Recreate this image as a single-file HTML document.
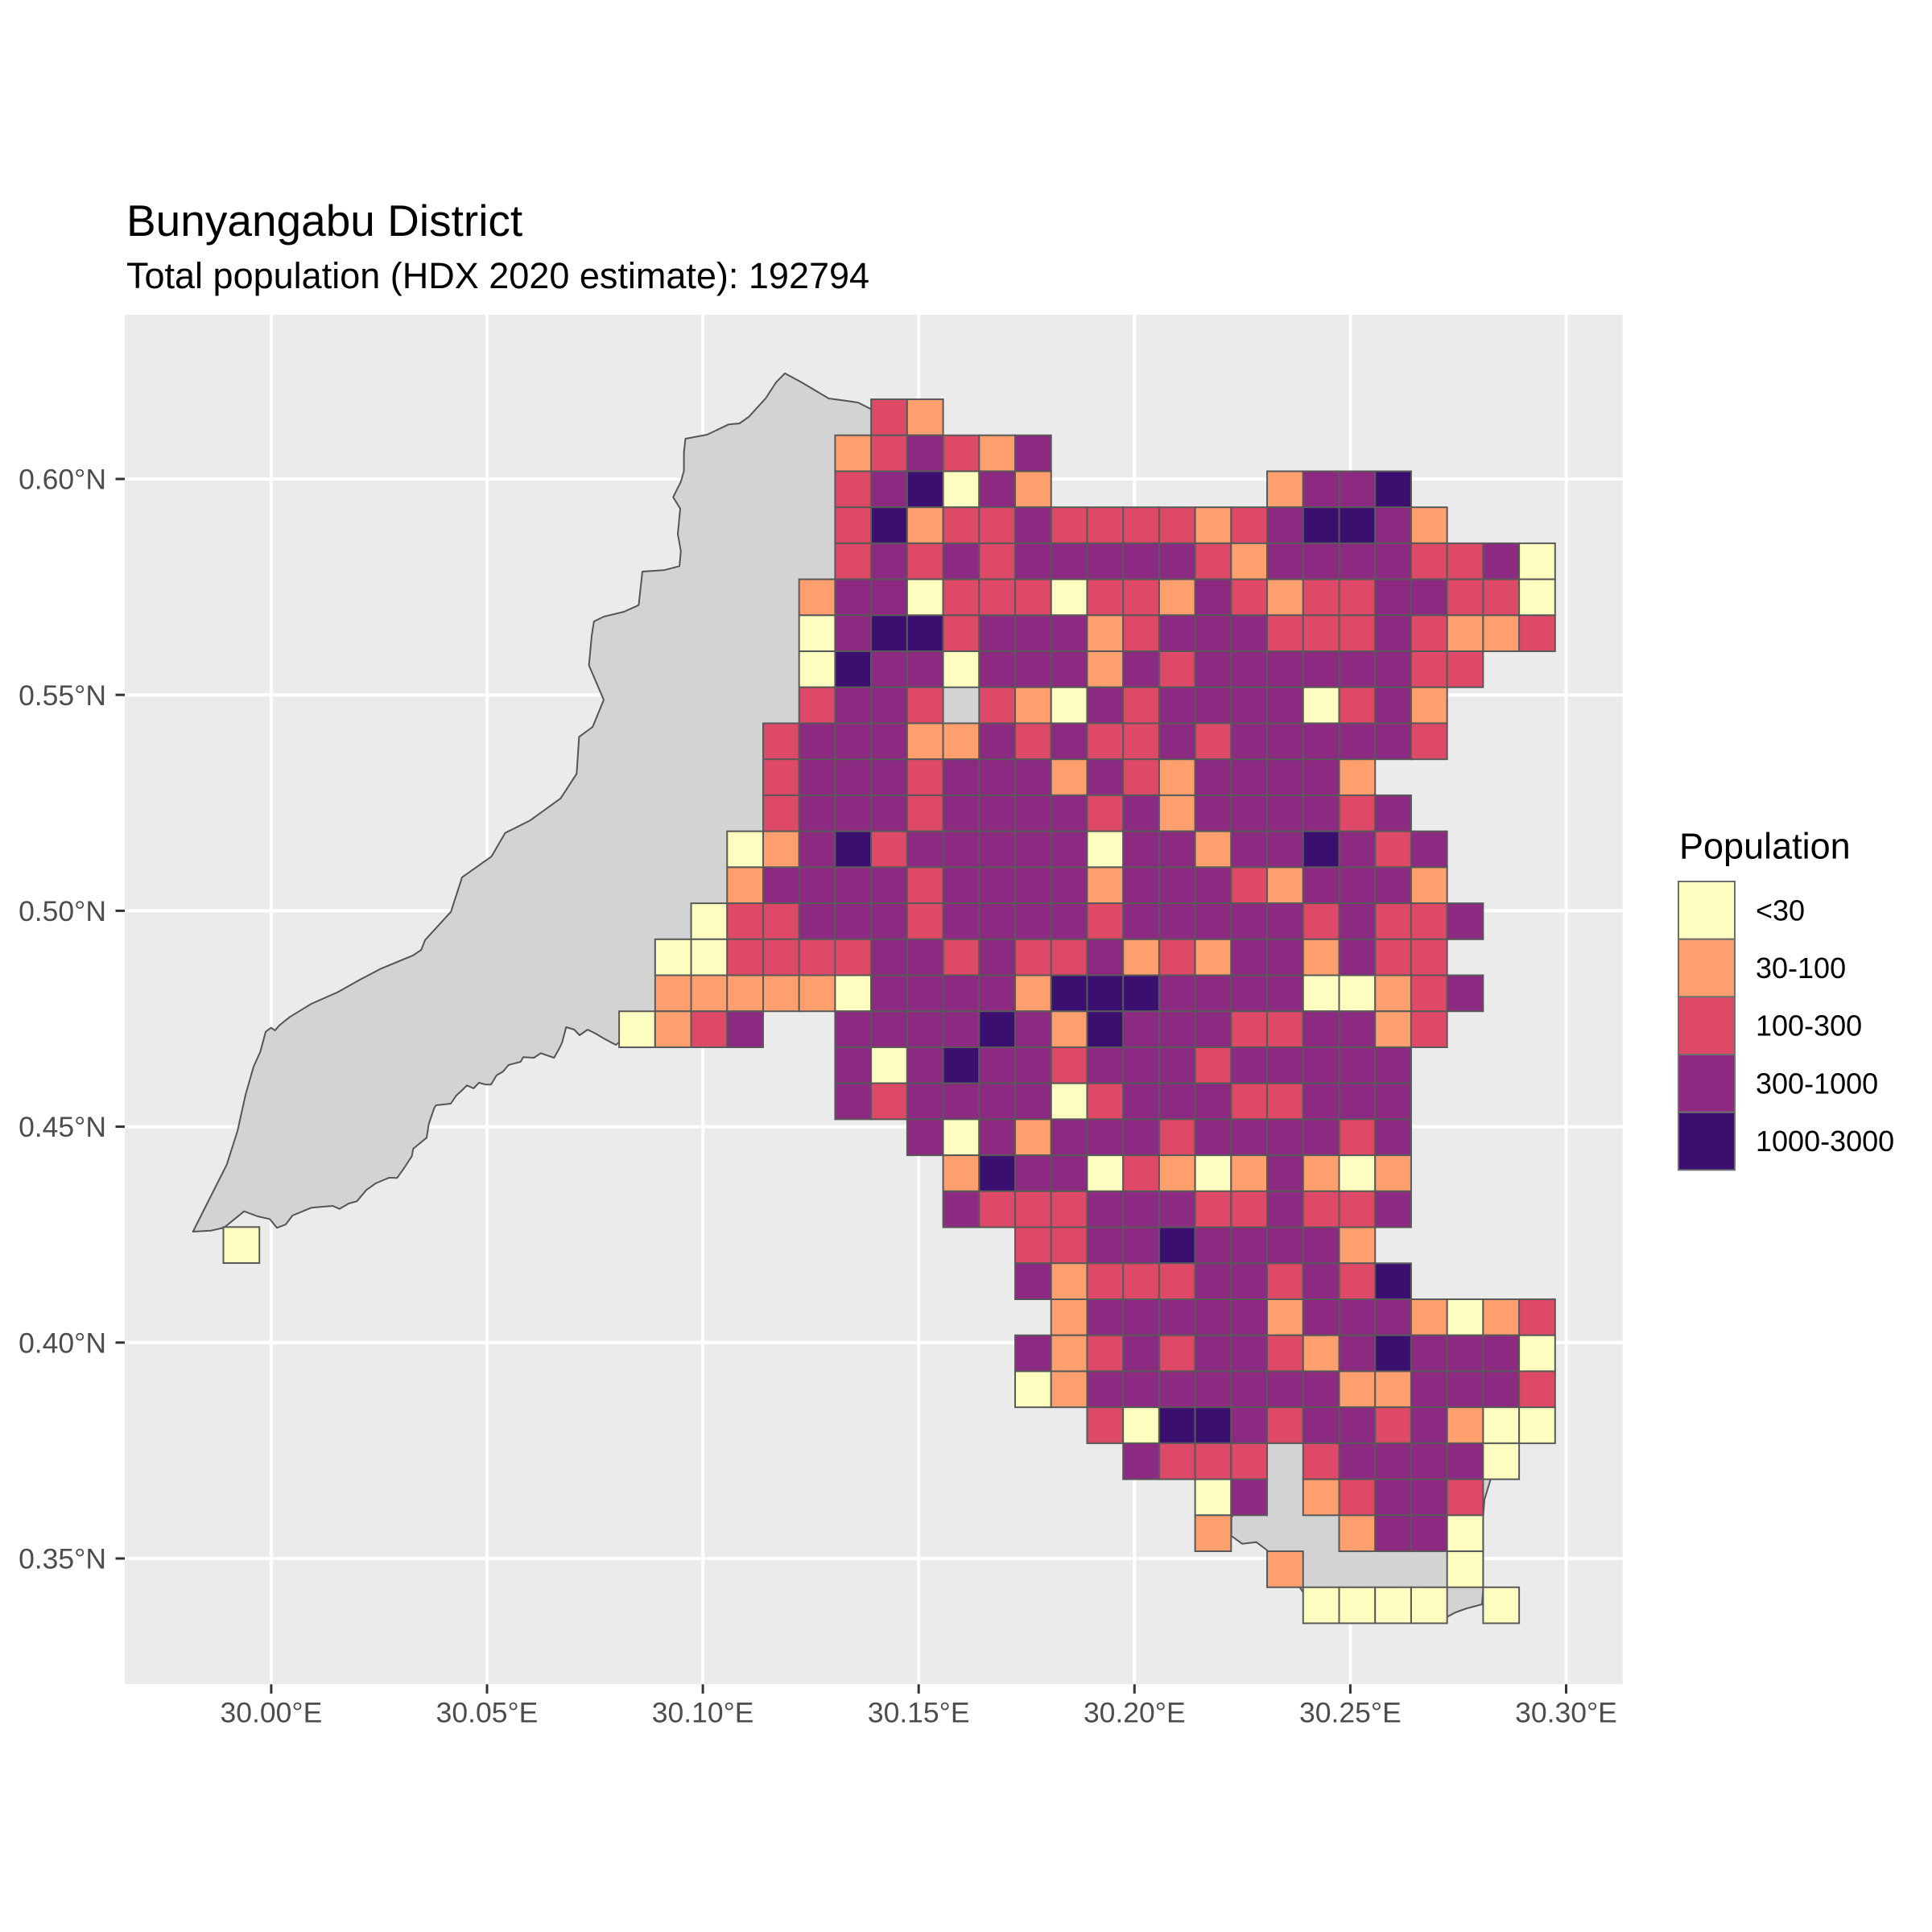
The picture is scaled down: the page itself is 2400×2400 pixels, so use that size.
<!DOCTYPE html>
<html><head><meta charset="utf-8"><style>
html,body{margin:0;padding:0;background:#fff;}
svg{display:block;}
text{font-family:"Liberation Sans",Arial,sans-serif;}
</style></head><body>
<svg id="s" width="2400" height="2400" viewBox="0 0 2400 2400" xmlns="http://www.w3.org/2000/svg">
<rect width="2400" height="2400" fill="#fff"/>
<text x="157" y="293" font-size="55" fill="#000">Bunyangabu District</text>
<text x="157" y="358" font-size="45" fill="#000">Total population (HDX 2020 estimate): 192794</text>
<rect x="155" y="391" width="1860.7" height="1701.3" fill="#ebebeb"/>
<g stroke="#fff" stroke-width="4">
<line x1="336.9" y1="391" x2="336.9" y2="2092.3"/>
<line x1="605" y1="391" x2="605" y2="2092.3"/>
<line x1="873.1" y1="391" x2="873.1" y2="2092.3"/>
<line x1="1141.2" y1="391" x2="1141.2" y2="2092.3"/>
<line x1="1409.3" y1="391" x2="1409.3" y2="2092.3"/>
<line x1="1677.4" y1="391" x2="1677.4" y2="2092.3"/>
<line x1="1945.5" y1="391" x2="1945.5" y2="2092.3"/>
<line x1="155" y1="595" x2="2015.7" y2="595"/>
<line x1="155" y1="863.2" x2="2015.7" y2="863.2"/>
<line x1="155" y1="1131.4" x2="2015.7" y2="1131.4"/>
<line x1="155" y1="1399.6" x2="2015.7" y2="1399.6"/>
<line x1="155" y1="1667.8" x2="2015.7" y2="1667.8"/>
<line x1="155" y1="1936" x2="2015.7" y2="1936"/>
</g>
<polygon fill="#d3d3d3" stroke="#555" stroke-width="2" stroke-linejoin="round" points="975,463.8 964,475 951,495 930,518 918.5,526 905,527.3 878.3,540 851.5,545 849.6,561.7 849.6,585 845.8,598.3 836.2,617.7 845,631.7 842,663.3 845.8,685 844,703.3 824.8,708.3 798,710 793.4,751.7 775,760 750,766 737.8,772 735,790 731.6,826.5 750,869.4 736.2,903 719.4,915.3 716.3,961.2 696.4,991.8 658.2,1019.4 627.5,1034.7 610.7,1063.8 574,1089.8 560.2,1132.6 528,1167.8 523.3,1180 513.3,1186.7 473.3,1203.3 446.7,1217.3 420,1232.3 386.7,1247 360,1263.3 346.7,1274 341.7,1280 336.7,1276.7 330,1281.7 323.3,1306.7 315,1325 305,1360 295,1405 281.7,1446.7 239.7,1530 262.3,1528.7 278.3,1525 303.3,1504.7 320,1511 335,1514.3 344,1525.3 355,1521 363.3,1510 386.7,1500.3 413.3,1498 421.7,1501.7 433.3,1495 443.3,1492.3 455,1478.3 466.7,1470 483.3,1463 493.3,1463.3 502.7,1450 511.7,1436 513.3,1427 530,1413.3 532.7,1396 539.3,1376.7 541.7,1373 560,1371 566.7,1361 573.3,1355 580,1348.3 588.3,1352 595,1345 603.3,1347.3 610,1347.3 616.7,1336 625,1331 631.7,1323 646.7,1319 650,1313.3 663.3,1314 671.7,1308.3 688.3,1314 695,1302 698.3,1295 703.3,1276 713.3,1279 720,1286 730,1279 740,1284 750,1290 765,1298 775,1290 900,1285 935,1245 1060,1245 1100,520 1081,507.7 1065.8,500 1043,496.7 1029.5,495 995,474.5"/>
<polygon fill="#d3d3d3" stroke="#555" stroke-width="2" stroke-linejoin="round" points="1550,1770 1550,1870 1535,1878 1529.7,1885 1529.7,1908 1543,1917.7 1560.6,1915.7 1573,1925 1600,1950 1630,1995 1790,1995 1797,2009 1808,2003 1822,1998 1841,1993 1842.4,1975 1842.4,1930 1842.4,1885 1844,1863 1851.6,1838 1860,1770"/>
<rect x="1171.6" y="853.8" width="44.72" height="44.72" fill="#d3d3d3"/>
<g id="cells" stroke="#595959" stroke-width="2"></g>
<g stroke="#333" stroke-width="3">
<line x1="143.5" y1="595" x2="155" y2="595"/>
<line x1="143.5" y1="863.2" x2="155" y2="863.2"/>
<line x1="143.5" y1="1131.4" x2="155" y2="1131.4"/>
<line x1="143.5" y1="1399.6" x2="155" y2="1399.6"/>
<line x1="143.5" y1="1667.8" x2="155" y2="1667.8"/>
<line x1="143.5" y1="1936" x2="155" y2="1936"/>
<line x1="336.9" y1="2092.3" x2="336.9" y2="2103.8"/>
<line x1="605" y1="2092.3" x2="605" y2="2103.8"/>
<line x1="873.1" y1="2092.3" x2="873.1" y2="2103.8"/>
<line x1="1141.2" y1="2092.3" x2="1141.2" y2="2103.8"/>
<line x1="1409.3" y1="2092.3" x2="1409.3" y2="2103.8"/>
<line x1="1677.4" y1="2092.3" x2="1677.4" y2="2103.8"/>
<line x1="1945.5" y1="2092.3" x2="1945.5" y2="2103.8"/>
</g>
<g font-size="35.5" fill="#4d4d4d" text-anchor="end">
<text x="132" y="607.6">0.60°N</text>
<text x="132" y="875.8">0.55°N</text>
<text x="132" y="1144">0.50°N</text>
<text x="132" y="1412.2">0.45°N</text>
<text x="132" y="1680.4">0.40°N</text>
<text x="132" y="1948.6">0.35°N</text>
</g>
<g font-size="35.5" fill="#4d4d4d" text-anchor="middle">
<text x="336.9" y="2139.3">30.00°E</text>
<text x="605" y="2139.3">30.05°E</text>
<text x="873.1" y="2139.3">30.10°E</text>
<text x="1141.2" y="2139.3">30.15°E</text>
<text x="1409.3" y="2139.3">30.20°E</text>
<text x="1677.4" y="2139.3">30.25°E</text>
<text x="1945.5" y="2139.3">30.30°E</text>
</g>
<text x="2086" y="1066.7" font-size="45" fill="#000">Population</text>
<g stroke="#707070" stroke-width="2">
<rect x="2085" y="1095" width="70" height="71.67" fill="#FCFDBF"/>
<rect x="2085" y="1166.67" width="70" height="71.67" fill="#FE9F6D"/>
<rect x="2085" y="1238.33" width="70" height="71.67" fill="#DE4968"/>
<rect x="2085" y="1310" width="70" height="71.67" fill="#8C2981"/>
<rect x="2085" y="1381.67" width="70" height="71.67" fill="#3B0F70"/>
</g>
<g font-size="36" fill="#000">
<text x="2181" y="1143.3">&lt;30</text>
<text x="2181" y="1215">30-100</text>
<text x="2181" y="1286.6">100-300</text>
<text x="2181" y="1358.3">300-1000</text>
<text x="2181" y="1430">1000-3000</text>
</g>
</svg>
<script>
(function(){
var rows=[
".......RO.................",
"......ORPROP..............",
"......RPDYPO......OPPD....",
"......RDORRPRRRRORPDDPO...",
"......RPRPRPPPPPROPPPPRRPY",
".....OPPYRRRYRROPRORRPPRRY",
".....YPDDRPPPORPPPRRRPROOR",
".....YDPPYPPPOPRPPPPPPRR..",
".....RPPR.ROYPRPPPPYRPO...",
"....RPPPOOPRPRRPRPPPPPR...",
"....RPPPRPPPOPROPPPPO.....",
"....RPPPRPPPPRPOPPPPRP....",
"...YOPDRPPPPPYPPOPPDPRP...",
"...OPPPPRPPPPOPPPROPPPO...",
"..YRRPPPRPPPPRPPPPPRPRRP..",
".YYRRRRPPRPRRPOROPPOPRR...",
".OOOOOYPPPPODDDPPPPYYORP..",
"YORP..PPPPDPODPPPRRPPOR...",
"......PYPDPPRPPPRPPPPP....",
"......PRPPPPYRPPPRRPPP....",
"........PYPOPPPRPPPPRP....",
".........ODPPYROYOPOYO....",
".........PRRRPPPRRPRRP....",
"...........RRPPDPPPPO.....",
"...........PORRRPPRPRD....",
"............OPPPPPOPPPOYOR",
"...........PORPRPPROPDPPPY",
"...........YOPPPPPPPOOPPPR",
".............RYDDPRPPRPOYY",
"..............PRRR.RPPPPY.",
"................YP.ORPPR..",
"................O...OPPY..",
"..................O....Y..",
"...................YYYY.Y."];
var col={Y:"#FCFDBF",O:"#FE9F6D",R:"#DE4968",P:"#8C2981",D:"#3B0F70"};
var g=document.getElementById("cells"),ns="http://www.w3.org/2000/svg",s=44.72;
function add(x,y,c){var r=document.createElementNS(ns,"rect");r.setAttribute("x",x);r.setAttribute("y",y);r.setAttribute("width",s);r.setAttribute("height",s);r.setAttribute("fill",c);g.appendChild(r);}
for(var i=0;i<rows.length;i++){for(var j=0;j<rows[i].length;j++){var ch=rows[i][j];if(col[ch])add(769.1+j*s,496+i*s,col[ch]);}}
add(277.5,1524.3,col.Y);
})();
</script>
</body></html>
